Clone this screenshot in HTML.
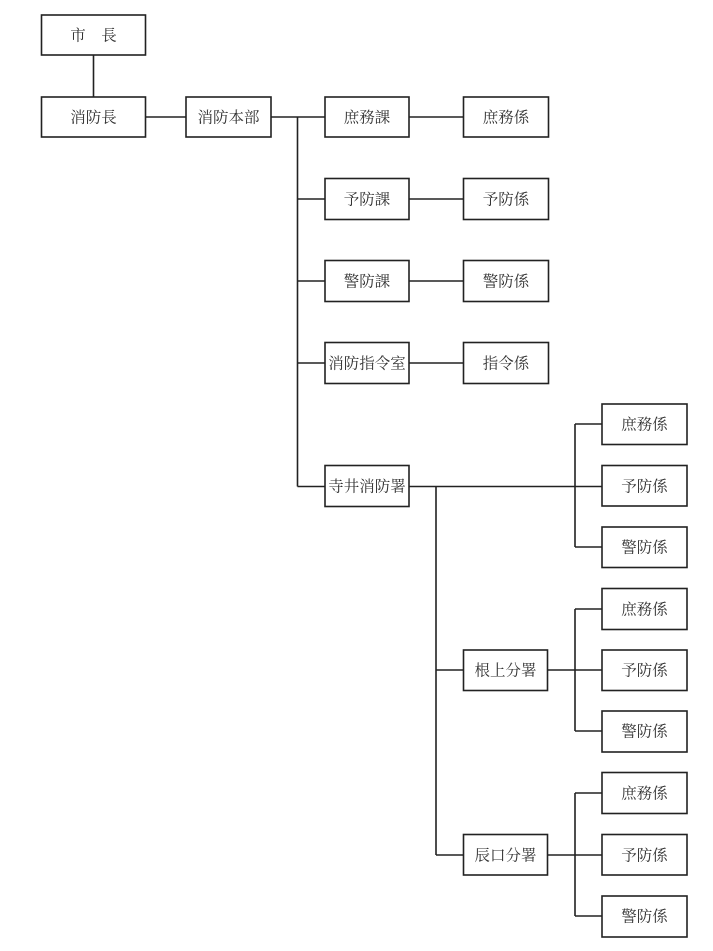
<!DOCTYPE html>
<html><head><meta charset="utf-8"><style>
html,body{margin:0;padding:0;background:#fff;}
svg{display:block;}
text{font-family:"Liberation Serif","Noto Serif CJK SC","Noto Serif CJK JP",serif;font-size:15.5px;fill:#333;text-anchor:middle;dominant-baseline:central;}
rect{fill:#fff;stroke:#222;stroke-width:1.6;}
line{stroke:#222;stroke-width:1.6;}
</style></head><body>
<svg width="713" height="951" viewBox="0 0 713 951" xmlns="http://www.w3.org/2000/svg">
<!-- connectors -->
<line x1="93.5" y1="55" x2="93.5" y2="97"/>
<line x1="145" y1="117" x2="186" y2="117"/>
<line x1="271" y1="117" x2="325" y2="117"/>
<line x1="297.5" y1="117" x2="297.5" y2="486.5"/>
<line x1="297.5" y1="199" x2="325" y2="199"/>
<line x1="297.5" y1="281" x2="325" y2="281"/>
<line x1="297.5" y1="363" x2="325" y2="363"/>
<line x1="297.5" y1="486.5" x2="325" y2="486.5"/>
<line x1="409" y1="117" x2="463" y2="117"/>
<line x1="409" y1="199" x2="463" y2="199"/>
<line x1="409" y1="281" x2="463" y2="281"/>
<line x1="409" y1="363" x2="463" y2="363"/>
<line x1="409" y1="486.5" x2="602" y2="486.5"/>
<line x1="436" y1="486.5" x2="436" y2="855"/>
<line x1="436" y1="670" x2="463" y2="670"/>
<line x1="436" y1="855" x2="463" y2="855"/>
<line x1="575" y1="424" x2="575" y2="547"/>
<line x1="575" y1="424" x2="602" y2="424"/>
<line x1="575" y1="547" x2="602" y2="547"/>
<line x1="548" y1="670" x2="602" y2="670"/>
<line x1="575" y1="609" x2="575" y2="731"/>
<line x1="575" y1="609" x2="602" y2="609"/>
<line x1="575" y1="731" x2="602" y2="731"/>
<line x1="548" y1="855" x2="602" y2="855"/>
<line x1="575" y1="793" x2="575" y2="916"/>
<line x1="575" y1="793" x2="602" y2="793"/>
<line x1="575" y1="916" x2="602" y2="916"/>

<!-- boxes -->
<rect x="41.5" y="15" width="104" height="40"/><text x="93.5" y="36">市　長</text>
<rect x="41.5" y="97" width="104" height="40"/><text x="93.5" y="118">消防長</text>
<rect x="186" y="97" width="85" height="40"/><text x="228.5" y="118">消防本部</text>

<rect x="325" y="97" width="84" height="40"/><text x="367" y="118">庶務課</text>
<rect x="325" y="178.5" width="84" height="41"/><text x="367" y="200">予防課</text>
<rect x="325" y="260.5" width="84" height="41"/><text x="367" y="282">警防課</text>
<rect x="325" y="342.5" width="84" height="41"/><text x="367" y="364">消防指令室</text>
<rect x="325" y="465.5" width="84" height="41"/><text x="367" y="487">寺井消防署</text>

<rect x="463.5" y="97" width="85" height="40"/><text x="506" y="118">庶務係</text>
<rect x="463.5" y="178.5" width="85" height="41"/><text x="506" y="200">予防係</text>
<rect x="463.5" y="260.5" width="85" height="41"/><text x="506" y="282">警防係</text>
<rect x="463.5" y="342.5" width="85" height="41"/><text x="506" y="364">指令係</text>

<rect x="463.5" y="650" width="84" height="40.5"/><text x="505.5" y="671">根上分署</text>
<rect x="463.5" y="834.5" width="84" height="40.5"/><text x="505.5" y="856">辰口分署</text>

<rect x="602" y="404" width="85" height="40.5"/><text x="644.5" y="425">庶務係</text>
<rect x="602" y="465.5" width="85" height="40.5"/><text x="644.5" y="487">予防係</text>
<rect x="602" y="527" width="85" height="40.5"/><text x="644.5" y="548">警防係</text>

<rect x="602" y="588.5" width="85" height="41"/><text x="644.5" y="610">庶務係</text>
<rect x="602" y="650" width="85" height="40.5"/><text x="644.5" y="671">予防係</text>
<rect x="602" y="711" width="85" height="41"/><text x="644.5" y="732">警防係</text>

<rect x="602" y="772.5" width="85" height="41"/><text x="644.5" y="794">庶務係</text>
<rect x="602" y="834.5" width="85" height="40.5"/><text x="644.5" y="856">予防係</text>
<rect x="602" y="896" width="85" height="41"/><text x="644.5" y="917">警防係</text>
</svg>
</body></html>
